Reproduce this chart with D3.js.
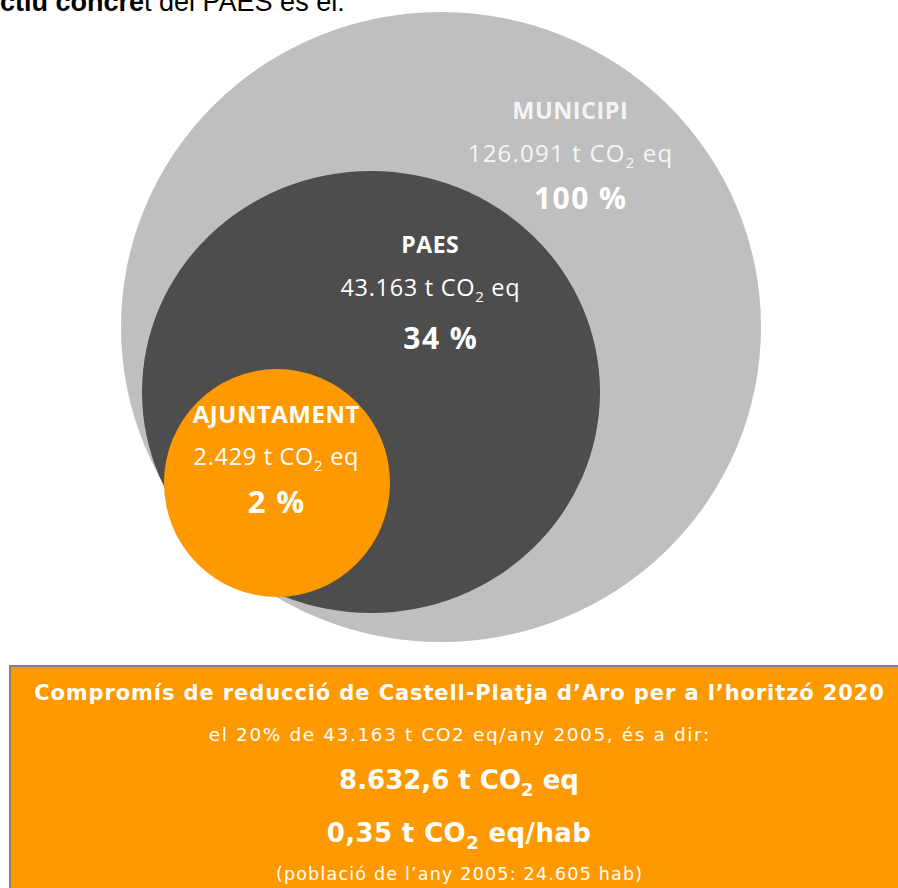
<!DOCTYPE html>
<html>
<head>
<meta charset="utf-8">
<script src="https://cdn.jsdelivr.net/npm/d3@7"></script>
<style>
  html, body { margin: 0; padding: 0; background: #fff; overflow: hidden; }
</style>
</head>
<body>
<div id="chart"></div>
<script>
// Emission levels (t CO2 eq, year 2005)
const groups = ['MUNICIPI', 'PAES', 'AJUNTAMENT'];
const emissions = [126091, 43163, 2429];
const shares = [100, 34, 2];

// Reduction commitment
const reductionPct = 20;
const baseYear = 2005;
const horizonYear = 2020;
const targetTonnes = 8632.6;
const targetPerCapita = 0.35;
const population = 24605;

const width = 898;
const height = 888;

// layout of the nested circles (sizes are not data-proportional in the original)
const circles = [
  { cx: 441, cy: 327, rx: 320, ry: 315, fill: '#bfbfbf', lx: 570, ly: 119, name: 23.5, val: 24, vs: 1.2, pct: 30, px: 580 },
  { cx: 371, cy: 392, rx: 229, ry: 221, fill: '#4d4d4d', lx: 430, ly: 253, name: 23, val: 23.5, vs: 0.7, pct: 30, px: 440 },
  { cx: 277, cy: 483, rx: 113, ry: 114, fill: '#ff9900', lx: 276, ly: 423, name: 24, val: 23.5, vs: 0.7, pct: 31, px: 276 }
];

const ca = d3.formatLocale({ decimal: ',', thousands: '.', grouping: [3], currency: ['', ' €'] });
const fmtInt = ca.format(',d');
const fmtDec1 = ca.format(',.1f');
const fmtDec2 = ca.format(',.2f');

const svg = d3.select('#chart')
  .append('svg')
  .attr('width', width)
  .attr('height', height);

// cut-off sentence from the page above
const intro = svg.append('text')
  .attr('x', 0)
  .attr('y', 11)
  .style('font-family', 'Liberation Sans, Arial, sans-serif')
  .style('font-size', '27px')
  .attr('fill', '#000');
intro.append('tspan').style('font-weight', 'bold').text('ctiu concre');
intro.append('tspan').text('t del PAES és el:');

// circles
svg.selectAll('ellipse.level')
  .data(groups)
  .join('ellipse')
  .attr('class', 'level')
  .attr('cx', (d, i) => circles[i].cx)
  .attr('cy', (d, i) => circles[i].cy)
  .attr('rx', (d, i) => circles[i].rx)
  .attr('ry', (d, i) => circles[i].ry)
  .attr('fill', (d, i) => circles[i].fill);

const labelFont = 'Open Sans, Lato, sans-serif';

// add "t CO2 eq" text with subscript 2
function co2(textSel, prefix, suffix, subSize, shift) {
  textSel.append('tspan').text(prefix + ' t CO');
  textSel.append('tspan')
    .attr('dy', shift)
    .style('font-size', subSize)
    .text('2');
  textSel.append('tspan')
    .attr('dy', -shift)
    .text(' ' + suffix);
}

const labels = svg.selectAll('g.label')
  .data(groups)
  .join('g')
  .attr('class', 'label')
  .style('font-family', labelFont)
  .attr('text-anchor', 'middle');

labels.append('text')
  .attr('x', (d, i) => circles[i].lx + 0.3)
  .attr('y', (d, i) => circles[i].ly)
  .attr('fill', (d, i) => i === 0 ? '#f4f4f4' : '#ffffff')
  .style('font-size', (d, i) => circles[i].name + 'px')
  .style('font-weight', 'bold')
  .style('letter-spacing', '0.5px')
  .text(d => d);

labels.append('text')
  .attr('x', (d, i) => circles[i].lx + circles[i].vs / 2)
  .attr('y', (d, i) => circles[i].ly + (i === 2 ? 42 : 43))
  .attr('fill', (d, i) => i === 0 ? '#f6f6f6' : '#ffffff')
  .style('font-size', (d, i) => circles[i].val + 'px')
  .style('letter-spacing', (d, i) => circles[i].vs + 'px')
  .each(function(d, i) {
    co2(d3.select(this), fmtInt(emissions[i]), 'eq', '15px', 6);
  });

labels.append('text')
  .attr('x', (d, i) => circles[i].px + 0.7)
  .attr('y', (d, i) => circles[i].ly + (i === 1 ? 96 : 90))
  .attr('fill', '#ffffff')
  .style('font-size', (d, i) => circles[i].pct + 'px')
  .style('font-weight', 'bold')
  .style('letter-spacing', '1.4px')
  .text((d, i) => `${shares[i]} %`);

// commitment box
svg.append('rect')
  .attr('x', 10)
  .attr('y', 666)
  .attr('width', 900)
  .attr('height', 240)
  .attr('fill', '#ff9900')
  .attr('stroke', '#808080')
  .attr('stroke-width', 2);

const boxFont = 'DejaVu Sans, Verdana, sans-serif';
const bx = 459;

svg.append('text')
  .attr('x', bx + 0.5)
  .attr('y', 700)
  .attr('text-anchor', 'middle')
  .attr('fill', '#fff')
  .style('font-family', boxFont)
  .style('font-size', '21px')
  .style('font-weight', 'bold')
  .style('letter-spacing', '0.9px')
  .text(`Compromís de reducció de Castell-Platja d’Aro per a l’horitzó ${horizonYear}`);

svg.append('text')
  .attr('x', bx + 0.8)
  .attr('y', 741)
  .attr('text-anchor', 'middle')
  .attr('fill', '#fff')
  .style('font-family', boxFont)
  .style('font-size', '18.5px')
  .style('letter-spacing', '1.6px')
  .text(`el ${reductionPct}% de ${fmtInt(emissions[1])} t CO2 eq/any ${baseYear}, és a dir:`);

const t1 = svg.append('text')
  .attr('x', bx)
  .attr('y', 789)
  .attr('text-anchor', 'middle')
  .attr('fill', '#fff')
  .style('font-family', boxFont)
  .style('font-size', '26px')
  .style('font-weight', 'bold');
co2(t1, fmtDec1(targetTonnes), 'eq', '18px', 7);

const t2 = svg.append('text')
  .attr('x', bx)
  .attr('y', 842)
  .attr('text-anchor', 'middle')
  .attr('fill', '#fff')
  .style('font-family', boxFont)
  .style('font-size', '26px')
  .style('font-weight', 'bold')
  .style('letter-spacing', '0.4px');
co2(t2, fmtDec2(targetPerCapita), 'eq/hab', '18px', 7);

svg.append('text')
  .attr('x', bx + 0.6)
  .attr('y', 880)
  .attr('text-anchor', 'middle')
  .attr('fill', '#fff')
  .style('font-family', boxFont)
  .style('font-size', '17.5px')
  .style('letter-spacing', '1.2px')
  .text(`(població de l’any ${baseYear}: ${fmtInt(population)} hab)`);
</script>
</body>
</html>
